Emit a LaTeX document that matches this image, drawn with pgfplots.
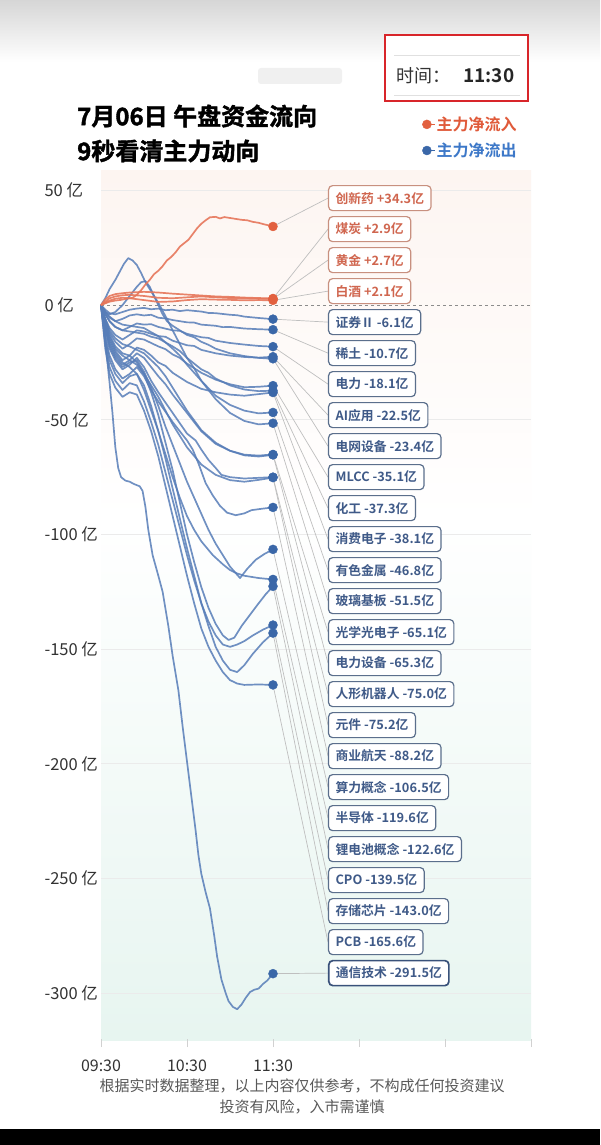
\documentclass[border=0pt]{standalone}
\usepackage{fontspec}
\setmainfont{Noto Sans CJK SC}[BoldFont={Noto Sans CJK SC Bold}]
\newfontfamily\heavy{Noto Sans CJK SC Bold}[FakeBold=1.6]
\usepackage{pgfplots}
\pgfplotsset{compat=1.18}

\definecolor{lineblue}{HTML}{577DB8}
\definecolor{linered}{HTML}{E6765A}
\definecolor{dotblue}{HTML}{3A67A8}
\definecolor{dotred}{HTML}{E2603F}
\definecolor{boxred}{HTML}{C8907F}
\definecolor{txtred}{HTML}{D0664F}
\definecolor{boxblue}{HTML}{5B6F8C}
\definecolor{txtblue}{HTML}{3F5A88}
\definecolor{legred}{HTML}{E05A3A}
\definecolor{legblue}{HTML}{3D78C8}
\definecolor{frame}{HTML}{D8252A}
\definecolor{ticktxt}{HTML}{333333}

\pgfplotsset{
  blueline/.style={forget plot, no marks, line width=1.7pt, color=lineblue, opacity=0.85, line join=round},
  redline/.style={forget plot, no marks, line width=1.7pt, color=linered, opacity=0.9, line join=round},
  leader/.style={forget plot, no marks, line width=0.7pt, color=black!25},
}
\tikzset{
  tagbase/.style={anchor=west, fill=white, rounded corners=4pt, line width=1.2pt,
                  inner xsep=7pt, minimum height=25pt, font=\bfseries\fontsize{12.8}{12.8}\selectfont},
  redtag/.style={tagbase, draw=boxred, text=txtred},
  bluetag/.style={tagbase, draw=boxblue, text=txtblue},
}

\begin{document}
\begin{tikzpicture}
\path[use as bounding box] (0pt,0pt) rectangle (600pt,-1145pt);
\fill[white] (0pt,0pt) rectangle (600pt,-1145pt);

\begin{scope}[x=1pt,y=-1pt]
  % header fade and plot background tint
  \shade[top color=black!16, bottom color=white] (0,0) rectangle (600,62);
  \shade[top color={rgb,255:red,253;green,245;blue,241}, bottom color=white] (101,170) rectangle (531,520);
  \shade[top color=white, bottom color={rgb,255:red,231;green,245;blue,240}] (101,519) rectangle (531,1040);
  % faint mark next to the clock box
  \fill[black!6, rounded corners=3pt] (258,68) rectangle (342,84);
  % clock box
  \draw[frame, line width=2.5pt, fill=white] (385,35) rectangle (528,101);
  \draw[black!12, line width=0.8pt] (394,55) -- (520,55);
  \draw[black!12, line width=0.8pt] (394,95) -- (520,95);
  \node[anchor=west, inner sep=0, text=ticktxt, font=\fontsize{18}{18}\selectfont] at (396,76) {时间：};
  \node[anchor=west, inner sep=0, text=black!85, font=\bfseries\fontsize{19}{19}\selectfont] at (463,76) {11:30};
  % titles
  \node[anchor=west, inner sep=0, font=\heavy\fontsize{24}{24}\selectfont] at (77,116) {7月06日 午盘资金流向};
  \node[anchor=west, inner sep=0, font=\heavy\fontsize{24}{24}\selectfont] at (77,151) {9秒看清主力动向};
  % footer
  \node[inner sep=0, text=black!65, font=\fontsize{15}{15}\selectfont] at (302,1086) {根据实时数据整理，以上内容仅供参考，不构成任何投资建议};
  \node[inner sep=0, text=black!65, font=\fontsize{15}{15}\selectfont] at (302,1107) {投资有风险，入市需谨慎};
  \fill[black] (0,1129) rectangle (600,1145);
\end{scope}

\begin{axis}[
  at={(101pt,-1039pt)}, anchor=south west,
  scale only axis, width=430pt, height=860pt,
  xmin=0, xmax=300, ymin=-320, ymax=55,
  clip=false,
  axis line style={draw=none},
  xtick={0,60,120,180,240,300},
  xticklabels={09:30,10:30,11:30,,,},
  xtick pos=bottom, ytick pos=left,
  tick align=outside,
  xtick style={draw=black!18, line width=1pt},
  major tick length=8pt,
  ytick={-300,-250,-200,-150,-100,-50,50},
  yticklabels={-300 亿,-250 亿,-200 亿,-150 亿,-100 亿,-50 亿,50 亿},
  extra y ticks={0}, extra y tick labels={0 亿},
  extra y tick style={grid=none},
  ytick style={draw=none},
  ymajorgrids,
  grid style={draw=black!8, line width=0.9pt},
  yticklabel style={anchor=west, xshift=-52pt, text=ticktxt, font=\fontsize{16.5}{16.5}\selectfont},
  xticklabel style={text=ticktxt, font=\fontsize{16}{16}\selectfont, yshift=-9pt},
  legend style={at={(0.74,1.076)}, anchor=north west, draw=none, fill=none,
                font=\bfseries\fontsize{16}{16}\selectfont, row sep=9pt,
                nodes={inner sep=1pt}},
  legend image code/.code={\path (0cm,0cm) -- (0.42cm,0cm); \draw[#1] plot coordinates {(0.12cm,0cm)};},
  legend cell align=left,
]

% zero line
\addplot[forget plot, no marks, dashed, color=black!45, line width=0.9pt] coordinates {(0,0) (300,0)};

% leaders from each end point to its tag
\addplot[leader] coordinates {(120,34.3) (158.37,46.66)};
\addplot[leader] coordinates {(120,2.9) (158.37,33.14)};
\addplot[leader] coordinates {(120,2.7) (158.37,19.63)};
\addplot[leader] coordinates {(120,2.1) (158.37,6.11)};
\addplot[leader] coordinates {(120,-6.1) (158.37,-7.41)};
\addplot[leader] coordinates {(120,-10.7) (158.37,-20.93)};
\addplot[leader] coordinates {(120,-18.1) (158.37,-34.44)};
\addplot[leader] coordinates {(120,-22.5) (158.37,-47.96)};
\addplot[leader] coordinates {(120,-23.4) (158.37,-61.48)};
\addplot[leader] coordinates {(120,-35.1) (158.37,-74.99)};
\addplot[leader] coordinates {(120,-37.3) (158.37,-88.51)};
\addplot[leader] coordinates {(120,-38.1) (158.37,-102.03)};
\addplot[leader] coordinates {(120,-46.8) (158.37,-115.54)};
\addplot[leader] coordinates {(120,-51.5) (158.37,-129.06)};
\addplot[leader] coordinates {(120,-65.1) (158.37,-142.58)};
\addplot[leader] coordinates {(120,-65.3) (158.37,-156.10)};
\addplot[leader] coordinates {(120,-75.0) (158.37,-169.61)};
\addplot[leader] coordinates {(120,-75.2) (158.37,-183.13)};
\addplot[leader] coordinates {(120,-88.2) (158.37,-196.65)};
\addplot[leader] coordinates {(120,-106.5) (158.37,-210.16)};
\addplot[leader] coordinates {(120,-119.6) (158.37,-223.68)};
\addplot[leader] coordinates {(120,-122.6) (158.37,-237.20)};
\addplot[leader] coordinates {(120,-139.5) (158.37,-250.71)};
\addplot[leader] coordinates {(120,-143.0) (158.37,-264.23)};
\addplot[leader] coordinates {(120,-165.6) (158.37,-277.75)};
\addplot[leader] coordinates {(120,-291.5) (158.37,-291.27)};

% net outflow sectors (minutes after 09:30, 亿)
% 证券Ⅱ
\addplot[blueline] coordinates {(0,0)(3,-2)(6,-3.5)(10,-4)(15,-3)(20,-2)(25,-1.5)(30,-1.2)(35,-1.8)(40,-1.5)(45,-2.2)(50,-2)(55,-2.6)(60,-2.2)(70,-2.8)(75,-3.4)(80,-3.5)(90,-4.2)(95,-4.4)(100,-5)(110,-5.6)(120,-6.1)};
% 稀土
\addplot[blueline] coordinates {(0,0)(3,-3)(6,-5.5)(10,-7)(15,-6)(20,-4.5)(25,-4)(30,-4.5)(35,-4.2)(40,-5.5)(45,-5.8)(50,-6.5)(60,-7.5)(65,-7.6)(70,-8.5)(80,-9)(85,-9.6)(90,-9.5)(100,-10.2)(110,-10.5)(120,-10.7)};
% 电力
\addplot[blueline] coordinates {(0,0)(3,-4)(6,-7)(10,-9.5)(15,-11)(20,-9.5)(25,-8)(30,-8.5)(35,-8.3)(40,-9.5)(50,-11)(55,-11.2)(60,-12.5)(70,-14)(75,-14.3)(80,-15.5)(90,-16.5)(100,-17.2)(110,-17.8)(120,-18.1)};
% AI应用
\addplot[blueline] coordinates {(0,0)(3,-6)(6,-10)(10,-13)(15,-15)(20,-13)(25,-11)(30,-11.5)(35,-12.5)(40,-13.5)(45,-13.8)(50,-15.5)(60,-17.5)(65,-17.8)(70,-19.5)(80,-21)(90,-22)(100,-22.6)(110,-22.9)(120,-22.5)};
% 电网设备
\addplot[blueline] coordinates {(0,0)(3,-3)(6,-4)(10,-3)(15,0)(20,4)(25,8)(28,10)(31,10.5)(34,8)(37,4)(40,0)(43,-4)(46,-7)(50,-9)(55,-11)(60,-13)(65,-14)(70,-16)(75,-17.3)(80,-19)(90,-21)(100,-22.2)(110,-23)(120,-23.4)};
% MLCC
\addplot[blueline] coordinates {(0,0)(3,-7)(6,-12)(10,-16)(15,-19)(20,-17)(25,-14.5)(30,-15)(35,-16.5)(40,-18)(45,-19.2)(50,-21.5)(55,-23)(60,-25.5)(70,-29.5)(80,-32.5)(90,-34.5)(100,-35.8)(110,-35.6)(120,-35.1)};
% 化工
\addplot[blueline] coordinates {(0,0)(3,-4)(6,-7)(10,-9.5)(15,-11)(20,-11.5)(30,-12.5)(35,-13.8)(40,-14.5)(50,-18)(55,-20)(60,-23)(70,-28)(75,-29.5)(80,-32)(90,-35)(100,-36.8)(110,-37.5)(120,-37.3)};
% 消费电子
\addplot[blueline] coordinates {(0,0)(3,-9)(6,-15)(10,-20)(15,-24)(20,-22)(25,-18.5)(30,-19.5)(35,-22)(40,-25)(45,-26.5)(50,-29.5)(60,-33.5)(70,-36.5)(80,-38)(90,-39)(100,-39.5)(110,-38.8)(120,-38.1)};
% 有色金属
\addplot[blueline] coordinates {(0,0)(3,-3)(6,-5)(10,-7)(15,-8.5)(20,-9)(30,-10)(35,-11.8)(40,-13.5)(50,-19)(55,-22)(60,-26)(70,-33)(80,-39.5)(90,-43.5)(100,-46)(110,-47.2)(120,-46.8)};
% 玻璃基板
\addplot[blueline] coordinates {(0,0)(3,3)(6,7)(10,11)(13,14.5)(16,18)(19,20.5)(22,19.5)(25,17.5)(28,14)(31,10)(34,7)(37,4)(40,1)(43,-2.5)(46,-6)(50,-11)(55,-17)(60,-23)(65,-27.5)(70,-33)(80,-41)(90,-47)(100,-50.5)(110,-52)(120,-51.5)};
% 光学光电子
\addplot[blueline] coordinates {(0,0)(3,-10)(6,-17)(10,-22)(15,-26)(20,-24)(25,-21)(30,-23)(35,-27)(40,-31)(45,-34.5)(50,-39)(60,-47)(70,-55)(80,-60.5)(90,-63.5)(100,-65.2)(110,-65.6)(120,-65.1)};
% 电力设备
\addplot[blueline] coordinates {(0,0)(3,-6)(6,-11)(10,-14.5)(15,-17)(20,-18)(30,-21)(40,-27)(45,-31)(50,-36)(60,-46)(70,-54.5)(80,-60)(90,-63.5)(100,-65.5)(110,-66)(120,-65.3)};
% 人形机器人
\addplot[blueline] coordinates {(0,0)(3,-12)(6,-19)(10,-24)(15,-28)(20,-26)(25,-23)(30,-27)(35,-33)(40,-38)(50,-47)(60,-56)(66,-59)(70,-63)(75,-67.5)(80,-71)(84,-74)(90,-75)(100,-75.6)(110,-75.3)(120,-75)};
% 元件
\addplot[blueline] coordinates {(0,0)(3,-8)(6,-14)(10,-19)(15,-22)(20,-24)(25,-26)(30,-30)(40,-40)(50,-52)(60,-62)(70,-69.5)(80,-74)(90,-76.3)(100,-77)(110,-76.2)(120,-75.2)};
% 商业航天
\addplot[blueline] coordinates {(0,0)(3,-14)(6,-22)(10,-28)(15,-32)(20,-30)(25,-27)(30,-31)(35,-37)(40,-42)(50,-51)(60,-59)(64,-63)(68,-69)(73,-77.6)(78,-83)(83,-87.5)(88,-90.5)(94,-91.6)(100,-90.8)(105,-89.4)(112,-88.8)(120,-88.2)};
% 算力概念
\addplot[blueline] coordinates {(0,0)(3,-10)(6,-18)(10,-23)(15,-27)(20,-25)(25,-24)(30,-29)(35,-36)(40,-44)(45,-53)(50,-61)(55,-69)(60,-77)(65,-84)(70,-91)(75,-98)(80,-104)(85,-109)(90,-114)(97,-119)(102,-115)(108,-111)(114,-108.5)(120,-106.5)};
% 半导体
\addplot[blueline] coordinates {(0,0)(3,-15)(6,-24)(10,-30)(15,-34)(20,-31)(25,-30)(30,-37)(35,-46)(40,-55)(45,-65)(50,-75)(55,-84)(60,-92)(65,-98)(70,-103)(78,-109)(85,-113)(90,-115.5)(95,-117)(100,-118)(110,-119)(120,-119.6)};
% 锂电池概念
\addplot[blueline] coordinates {(0,0)(3,-7)(6,-13)(10,-18)(15,-21)(20,-22)(25,-25)(30,-30)(35,-38)(40,-48)(45,-60)(50,-72)(55,-86)(60,-100)(65,-112)(70,-123)(75,-132)(80,-139)(85,-144)(89,-146)(93,-145)(98,-140)(104,-135)(110,-130)(115,-126)(120,-122.6)};
% CPO
\addplot[blueline] coordinates {(0,0)(3,-17)(6,-27)(10,-33)(15,-37)(20,-34)(25,-35)(30,-42)(35,-51)(40,-61)(45,-73)(50,-85)(55,-97)(60,-109)(65,-120)(70,-130)(75,-138)(80,-144)(85,-148)(90,-149)(95,-148)(100,-146.5)(106,-144)(113,-141.5)(120,-139.5)};
% 存储芯片
\addplot[blueline] coordinates {(0,0)(3,-9)(6,-16)(10,-21)(15,-25)(20,-27)(25,-30)(30,-35)(35,-44)(40,-55)(45,-67)(50,-80)(55,-93)(60,-106)(65,-118)(70,-130)(75,-140)(80,-149)(85,-155)(90,-159)(95,-160)(100,-157)(106,-152)(113,-147)(120,-143)};
% PCB
\addplot[blueline] coordinates {(0,0)(3,-19)(6,-30)(10,-36)(15,-40)(20,-38)(25,-39)(30,-46)(35,-55)(40,-66)(45,-79)(50,-92)(55,-105)(60,-118)(65,-130)(70,-141)(75,-149)(80,-155)(85,-160)(90,-163.5)(95,-165)(100,-165.6)(110,-165.4)(120,-165.6)};
% 通信技术
\addplot[blueline] coordinates {(0,0)(2,-10)(4,-22)(6,-34)(8,-47)(10,-62)(12,-71)(14,-75)(17,-76.5)(20,-77)(23,-78)(27,-79)(29,-81)(31,-88)(33,-98)(36,-109)(40,-118)(43,-125)(47,-140)(50,-153)(54,-168)(57,-184)(60,-199)(63,-214)(66,-229)(68,-240)(70,-248)(73,-256)(76,-263)(79,-275)(81,-284)(84,-294)(87,-300)(89,-303.5)(92,-306)(95,-307)(98,-305)(101,-302)(104,-299.5)(107,-298.5)(110,-298)(113,-296)(116,-294.5)(120,-291.5)};

% net inflow sectors
% 白酒
\addplot[redline] coordinates {(0,0)(3,1)(6,2)(10,2.8)(15,3.2)(20,3)(30,2.2)(40,1.4)(50,1.6)(60,2.2)(70,2.6)(80,2.4)(90,2.3)(100,2.1)(110,2.2)(120,2.1)};
% 黄金
\addplot[redline] coordinates {(0,0)(3,1.5)(6,3)(10,3.8)(15,4.3)(20,4.5)(30,4)(40,3.2)(50,3)(60,3.4)(70,3.8)(80,3.4)(90,3.1)(100,3)(110,2.8)(120,2.7)};
% 煤炭
\addplot[redline] coordinates {(0,0)(3,2.5)(6,4)(10,4.8)(15,5.2)(20,5.5)(30,5.8)(40,5.5)(50,5)(60,4.6)(70,4.2)(80,3.8)(90,3.6)(100,3.3)(110,3.1)(120,2.9)};
% 创新药
\addplot[redline] coordinates {(0,0)(3,0.8)(6,1.5)(10,2)(14,2.3)(18,2.8)(22,3.2)(25,4.5)(28,6.5)(31,9)(34,11)(37,13.5)(40,15)(43,17)(46,19.5)(49,21)(52,23)(55,25.5)(58,27)(61,28.5)(64,31)(67,33.5)(70,35.5)(73,37)(76,38.3)(80,38.5)(83,37.8)(86,38.4)(90,38)(94,37.6)(98,37.2)(102,37)(106,36.3)(110,35.9)(114,35.2)(117,34.8)(120,34.3)};

% end points at 11:30
\addplot[only marks, mark=*, mark size=4.5pt, color=dotred] coordinates {(120,34.3)(120,2.9)(120,2.7)(120,2.1)};
\addlegendentry{\textcolor{legred}{主力净流入}}
\addplot[only marks, mark=*, mark size=4.5pt, color=dotblue] coordinates {(120,-6.1)(120,-10.7)(120,-18.1)(120,-22.5)(120,-23.4)(120,-35.1)(120,-37.3)(120,-38.1)(120,-46.8)(120,-51.5)(120,-65.1)(120,-65.3)(120,-75.0)(120,-75.2)(120,-88.2)(120,-106.5)(120,-119.6)(120,-122.6)(120,-139.5)(120,-143.0)(120,-165.6)(120,-291.5)};
\addlegendentry{\textcolor{legblue}{主力净流出}}

% sector tags
\node[redtag] at (axis cs:158.37,46.66) {创新药 +34.3亿};
\node[redtag] at (axis cs:158.37,33.14) {煤炭 +2.9亿};
\node[redtag] at (axis cs:158.37,19.63) {黄金 +2.7亿};
\node[redtag] at (axis cs:158.37,6.11) {白酒 +2.1亿};
\node[bluetag] at (axis cs:158.37,-7.41) {证券Ⅱ -6.1亿};
\node[bluetag] at (axis cs:158.37,-20.93) {稀土 -10.7亿};
\node[bluetag] at (axis cs:158.37,-34.44) {电力 -18.1亿};
\node[bluetag] at (axis cs:158.37,-47.96) {AI应用 -22.5亿};
\node[bluetag] at (axis cs:158.37,-61.48) {电网设备 -23.4亿};
\node[bluetag] at (axis cs:158.37,-74.99) {MLCC -35.1亿};
\node[bluetag] at (axis cs:158.37,-88.51) {化工 -37.3亿};
\node[bluetag] at (axis cs:158.37,-102.03) {消费电子 -38.1亿};
\node[bluetag] at (axis cs:158.37,-115.54) {有色金属 -46.8亿};
\node[bluetag] at (axis cs:158.37,-129.06) {玻璃基板 -51.5亿};
\node[bluetag] at (axis cs:158.37,-142.58) {光学光电子 -65.1亿};
\node[bluetag] at (axis cs:158.37,-156.10) {电力设备 -65.3亿};
\node[bluetag] at (axis cs:158.37,-169.61) {人形机器人 -75.0亿};
\node[bluetag] at (axis cs:158.37,-183.13) {元件 -75.2亿};
\node[bluetag] at (axis cs:158.37,-196.65) {商业航天 -88.2亿};
\node[bluetag] at (axis cs:158.37,-210.16) {算力概念 -106.5亿};
\node[bluetag] at (axis cs:158.37,-223.68) {半导体 -119.6亿};
\node[bluetag] at (axis cs:158.37,-237.20) {锂电池概念 -122.6亿};
\node[bluetag] at (axis cs:158.37,-250.71) {CPO -139.5亿};
\node[bluetag] at (axis cs:158.37,-264.23) {存储芯片 -143.0亿};
\node[bluetag] at (axis cs:158.37,-277.75) {PCB -165.6亿};
\node[bluetag, line width=1.7pt, draw=txtblue!90!black] at (axis cs:158.37,-291.27) {通信技术 -291.5亿};
\end{axis}
\end{tikzpicture}
\end{document}
